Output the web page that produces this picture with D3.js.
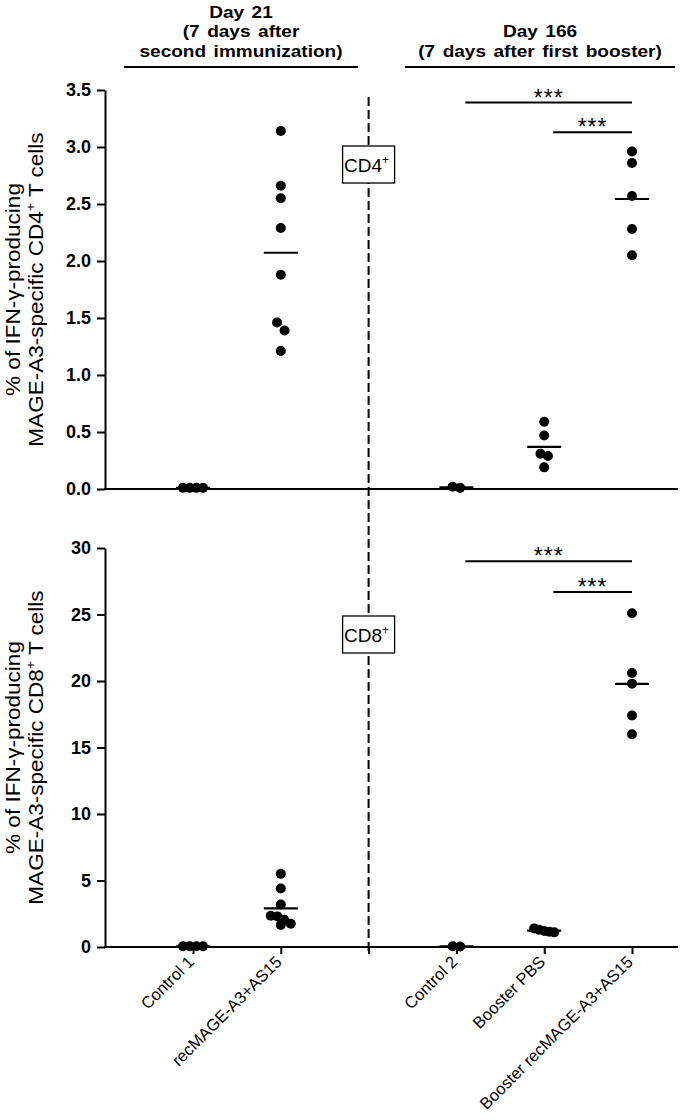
<!DOCTYPE html>
<html>
<head>
<meta charset="utf-8">
<script src="https://cdn.jsdelivr.net/npm/d3@7"></script>
<style>
  body { margin: 0; background: #fff; }
  text { font-family: "Liberation Sans", Arial, sans-serif; fill: #000; }
</style>
</head>
<body>
<div id="root"></div>
<script>
// groups along the x axis; the blank one is the Day 21 / Day 166 divider
const categories = ["Control 1", "recMAGE-A3+AS15", "", "Control 2", "Booster PBS", "Booster recMAGE-A3+AS15"];

// CD4+ responses (% IFN-g producing)
const cd4Control1 = [0.01, 0.01, 0.01, 0.01];
const cd4RecMage = [3.14, 2.66, 2.55, 2.29, 1.88, 1.46, 1.39, 1.21];
const cd4Control2 = [0.02, 0.01];
const cd4BoosterPbs = [0.59, 0.47, 0.31, 0.29, 0.19];
const cd4BoosterRec = [2.96, 2.86, 2.57, 2.28, 2.05];

// CD8+ responses
const cd8Control1 = [0.05, 0.05, 0.05, 0.05];
const cd8RecMage = [5.5, 4.4, 3.2, 2.35, 2.3, 2.05, 1.75, 1.65];
const cd8Control2 = [0.06, 0.04];
const cd8BoosterPbs = [1.4, 1.3, 1.2, 1.15, 1.1];
const cd8BoosterRec = [25.1, 20.6, 19.8, 17.4, 16.0];

const cd4Ticks = [0, 0.5, 1, 1.5, 2, 2.5, 3, 3.5];
const cd8Ticks = [0, 5, 10, 15, 20, 25, 30];

// significance bars: [from, to, height in data units]
const cd4Sig = [["Control 2", "Booster recMAGE-A3+AS15", 3.39], ["Booster PBS", "Booster recMAGE-A3+AS15", 3.13]];
const cd8Sig = [["Control 2", "Booster recMAGE-A3+AS15", 29.0], ["Booster PBS", "Booster recMAGE-A3+AS15", 26.7]];

const leftHeader = ["Day 21", "(7 days after", "second immunization)"];
const rightHeader = ["Day 166", "(7 days after first booster)"];

const W = 680, H = 1120;
const svg = d3.select('#root').append('svg')
    .attr('width', W).attr('height', H);

const x = d3.scalePoint().domain(categories).range([193, 632]);
const axisLeftX = 105, axisRightX = 678;

const panels = [
  { cell: "CD4", y: d3.scaleLinear().domain([0, 3.5]).range([489, 90]), ticks: cd4Ticks, fmt: d3.format(".1f"),
    groups: [cd4Control1, cd4RecMage, null, cd4Control2, cd4BoosterPbs, cd4BoosterRec], sig: cd4Sig, boxTop: 146 },
  { cell: "CD8", y: d3.scaleLinear().domain([0, 30]).range([947, 548]), ticks: cd8Ticks, fmt: d3.format("d"),
    groups: [cd8Control1, cd8RecMage, null, cd8Control2, cd8BoosterPbs, cd8BoosterRec], sig: cd8Sig, boxTop: 616 }
];

// headers (the source figure is a little wider than tall, hence the x scale)
function header(lines, cx, firstY) {
  svg.append('g')
     .attr('transform', 'translate(' + cx + ',0) scale(1.12,1)')
     .append('text')
     .attr('text-anchor', 'middle')
     .attr('font-size', 17).attr('font-weight', 'bold')
     .attr('word-spacing', 2)
     .selectAll('tspan').data(lines).enter().append('tspan')
     .attr('x', 0).attr('y', (d, i) => firstY + i * 19.5)
     .text(d => d);
}
header(leftHeader, 241, 18);
header(rightHeader, 540, 37.5);
svg.append('line').attr('x1', 124).attr('x2', 358).attr('y1', 67).attr('y2', 67)
   .attr('stroke', '#000').attr('stroke-width', 2);
svg.append('line').attr('x1', 405).attr('x2', 675).attr('y1', 67).attr('y2', 67)
   .attr('stroke', '#000').attr('stroke-width', 2);

// dashed divider through both panels
svg.append('line')
   .attr('x1', x("")).attr('x2', x(""))
   .attr('y1', 97).attr('y2', 953)
   .attr('stroke', '#000').attr('stroke-width', 2)
   .attr('stroke-dasharray', '9,4');

// spread points that sit at almost the same height
function spread(vals, y) {
  const sorted = vals.slice().sort((a, b) => b - a);
  const clusters = [];
  sorted.forEach(v => {
    const py = y(v);
    const last = clusters[clusters.length - 1];
    if (last && Math.abs(py - last.start) < 8) last.pts.push(v);
    else clusters.push({ start: py, pts: [v] });
  });
  const out = [];
  clusters.forEach(c => {
    const k = c.pts.length;
    const gap = k > 1 ? Math.min(7.5, 20 / (k - 1)) : 0;
    c.pts.forEach((v, i) => out.push({ v: v, dx: (i - (k - 1) / 2) * gap }));
  });
  return out;
}

panels.forEach(function (p, pi) {
  const g = svg.append('g');
  const y = p.y;

  // CD4+/CD8+ box on the divider
  const box = g.append('g');
  box.append('rect')
     .attr('x', x("") - 26).attr('y', p.boxTop)
     .attr('width', 52).attr('height', 37)
     .attr('fill', '#fff').attr('stroke', '#000').attr('stroke-width', 1.3);
  const bt = box.append('text')
     .attr('x', x("") - 2).attr('y', p.boxTop + 25.5)
     .attr('text-anchor', 'middle').attr('font-size', 19);
  bt.append('tspan').text(p.cell);
  bt.append('tspan').attr('font-size', 12).attr('dy', -8).text('+');

  // y axis
  const ya = g.append('g')
     .attr('transform', 'translate(' + axisLeftX + ',0)')
     .call(d3.axisLeft(y).tickValues(p.ticks).tickFormat(p.fmt).tickSize(8).tickSizeOuter(0).tickPadding(6));
  ya.select('.domain').attr('stroke-width', 2);
  ya.selectAll('.tick line').attr('stroke-width', 2);
  ya.selectAll('.tick text').attr('font-size', 18).attr('font-weight', 'bold')
    .attr('font-family', '"Liberation Sans", Arial, sans-serif').attr('fill', '#000');

  // x axis line
  g.append('line')
   .attr('x1', axisLeftX - 1).attr('x2', axisRightX)
   .attr('y1', y(0)).attr('y2', y(0))
   .attr('stroke', '#000').attr('stroke-width', 2);

  // bottom panel carries ticks and category names
  if (pi === 1) {
    const xa = g.append('g')
       .attr('transform', 'translate(0,' + y(0) + ')')
       .call(d3.axisBottom(x).tickSize(7).tickSizeOuter(0).tickFormat(''));
    xa.select('.domain').remove();
    xa.selectAll('.tick line').attr('stroke-width', 2);

    g.selectAll('.xlab')
     .data(categories.filter(c => c !== ""))
     .enter().append('text')
     .attr('class', 'xlab')
     .attr('text-anchor', 'end')
     .attr('font-size', 16.5)
     .attr('transform', d => 'translate(' + (x(d) + 2) + ',' + (y(0) + 16) + ') rotate(-45)')
     .text(d => d);
  }

  // y title
  const yt = g.append('text')
     .attr('text-anchor', 'middle')
     .attr('font-size', 20.5)
     .attr('transform', 'translate(0,' + ((y.range()[0] + y.range()[1]) / 2) + ') rotate(-90) scale(1.1,1)');
  yt.append('tspan').attr('x', 0).attr('y', 20)
    .text('% of IFN-\u03B3-producing');
  const l2 = yt.append('tspan').attr('x', 0).attr('y', 43);
  l2.append('tspan').text('MAGE-A3-specific ' + p.cell);
  l2.append('tspan').attr('font-size', 13).attr('dy', -8).text('+');
  l2.append('tspan').attr('dy', 8).text(' T cells');

  // dots and mean lines
  p.groups.forEach(function (vals, i) {
    if (!vals) return;
    const cx = x(categories[i]);
    g.selectAll(null)
     .data(spread(vals, y))
     .enter().append('circle')
     .attr('cx', d => cx + d.dx)
     .attr('cy', d => y(d.v))
     .attr('r', 5)
     .attr('fill', '#000');
    const m = d3.mean(vals);
    g.append('line')
     .attr('x1', cx - 17).attr('x2', cx + 17)
     .attr('y1', y(m)).attr('y2', y(m))
     .attr('stroke', '#000').attr('stroke-width', 2.2);
  });

  // significance bars
  p.sig.forEach(function (s) {
    const x1 = x(s[0]) + 9, x2 = x(s[1]);
    g.append('line')
     .attr('x1', x1).attr('x2', x2)
     .attr('y1', y(s[2])).attr('y2', y(s[2]))
     .attr('stroke', '#000').attr('stroke-width', 2);
    g.append('text')
     .attr('x', (x1 + x2) / 2).attr('y', y(s[2]) + 3)
     .attr('text-anchor', 'middle')
     .attr('font-size', 23).attr('letter-spacing', 1)
     .text('***');
  });
});
</script>
</body>
</html>
